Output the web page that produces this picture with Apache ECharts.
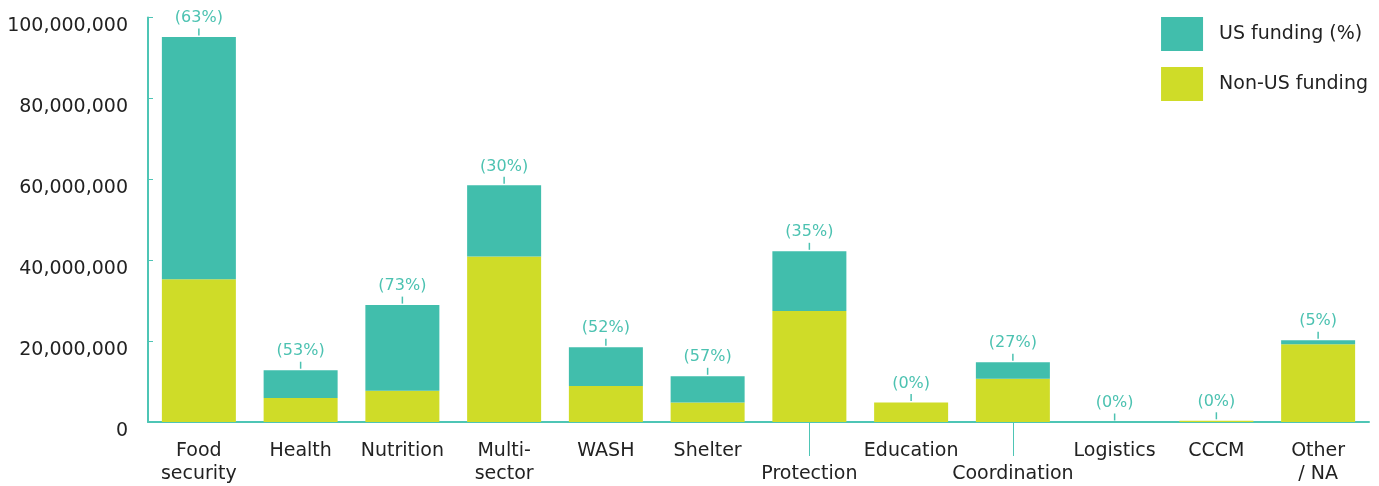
<!DOCTYPE html>
<html>
<head>
<meta charset="utf-8">
<script src="https://cdn.jsdelivr.net/npm/echarts@6/dist/echarts.min.js"></script>
<style>
  html, body { margin: 0; padding: 0; background: #ffffff; }
  #chart { width: 1379px; height: 486px; }
</style>
</head>
<body>
<div id="chart"></div>
<script>
// ---- data ----
const categories = ['Food\nsecurity', 'Health', 'Nutrition', 'Multi-\nsector', 'WASH', 'Shelter',
  'Protection', 'Education', 'Coordination', 'Logistics', 'CCCM', 'Other\n/ NA'];
const loweredLabels = ['Protection', 'Coordination'];
const nonUSFunding = [35300000, 5950000, 7700000, 40900000, 8900000, 4800000,
  27450000, 4800000, 10700000, 0, 300000, 19200000];
const usFunding = [59900000, 6850000, 21200000, 17600000, 9600000, 6500000,
  14750000, 0, 4100000, 0, 0, 1000000];
const usShareLabels = ['63%', '53%', '73%', '30%', '52%', '57%', '35%', '0%', '27%', '0%', '0%', '5%'];
const yTicks = [0, 20000000, 40000000, 60000000, 80000000, 100000000];

const TEAL = '#41beac';
const LIME = '#cfdc28';
const AXIS = '#4ec5b5';
const FONT = '"DejaVu Sans", sans-serif';

const chart = echarts.init(document.getElementById('chart'));
chart.setOption({
  animation: false,
  textStyle: { fontFamily: FONT },
  grid: { left: 148, right: 10, top: 17.5, bottom: 63, containLabel: false },
  legend: {
    orient: 'vertical',
    right: 6,
    top: 12,
    itemWidth: 42,
    itemHeight: 34,
    itemGap: 16,
    icon: 'rect',
    data: ['US funding (%)', 'Non-US funding'],
    textStyle: { fontFamily: FONT, fontSize: 19, color: '#222', padding: [0, 0, 0, 11] }
  },
  xAxis: [{
    type: 'category',
    data: categories,
    axisLine: { lineStyle: { color: AXIS, width: 2 } },
    axisTick: { inside: true, length: 4, lineStyle: { color: AXIS } },
    axisLabel: {
      interval: 0,
      color: '#222',
      fontSize: 19,
      lineHeight: 23,
      margin: 18,
      formatter: function (v) { return loweredLabels.indexOf(v) >= 0 ? '\n' + v : v; }
    }
  }, {
    type: 'category',
    data: categories,
    position: 'bottom',
    axisLine: { show: false },
    axisLabel: { show: false },
    axisTick: {
      show: true, alignWithLabel: true, length: 34,
      interval: function (i, v) { return loweredLabels.indexOf(v) >= 0; },
      lineStyle: { color: AXIS, width: 1 }
    }
  }],
  yAxis: {
    type: 'value',
    min: yTicks[0],
    max: yTicks[yTicks.length - 1],
    interval: yTicks[1] - yTicks[0],
    axisLine: { show: true, lineStyle: { color: AXIS, width: 2 } },
    axisTick: { show: true, inside: true, length: 5, lineStyle: { color: AXIS } },
    splitLine: { show: false },
    axisLabel: {
      color: '#222',
      fontSize: 19,
      margin: 20,
      verticalAlign: 'top',
      lineHeight: 18,
      formatter: function (v) { return v.toLocaleString('en-US'); }
    }
  },
  series: [{
    name: 'Non-US funding',
    type: 'bar',
    stack: 'total',
    barWidth: 74,
    data: nonUSFunding,
    itemStyle: { color: LIME }
  }, {
    name: 'US funding (%)',
    type: 'bar',
    stack: 'total',
    barWidth: 74,
    data: usFunding,
    itemStyle: { color: TEAL },
    label: {
      show: true,
      position: 'top',
      distance: 1,
      formatter: function (p) { return '{p|(' + usShareLabels[p.dataIndex] + ')}\n{t|}'; },
      rich: {
        p: { color: '#4cc2b1', fontSize: 16, fontWeight: 500, fontFamily: FONT, lineHeight: 20 },
        t: { width: 1.5, height: 7, backgroundColor: '#4cc2b1', lineHeight: 8 }
      }
    }
  }]
});
</script>
</body>
</html>
